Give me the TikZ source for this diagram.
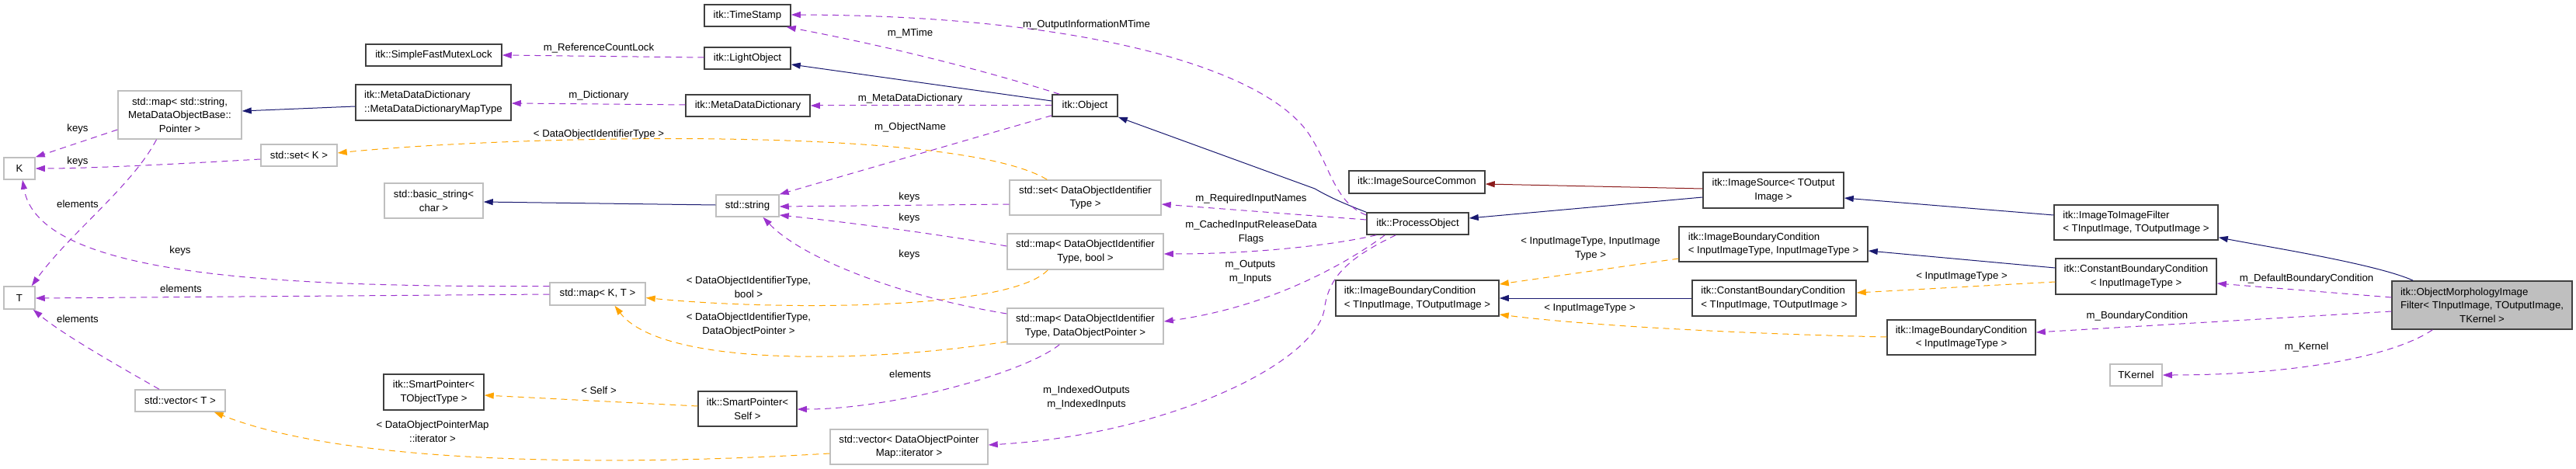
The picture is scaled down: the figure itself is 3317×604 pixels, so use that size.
\documentclass[tikz,border=0pt]{standalone}
\usepackage{fontspec}
\setmainfont{Liberation Sans}
\usepackage{xcolor}
\usetikzlibrary{arrows.meta, calc}
\definecolor{inhblue}{HTML}{191970}
\definecolor{usepurple}{HTML}{9A32CD}
\definecolor{tplorange}{HTML}{FFA500}
\definecolor{privred}{HTML}{8B1A1A}
\definecolor{boxline}{HTML}{404040}
\definecolor{extline}{HTML}{BFBFBF}
\newcommand{\dfont}{\fontsize{13.2}{17.7}\selectfont}
\newcommand{\midln}[1]{\hfill#1\hfill\null}
\tikzset{
    cls/.style={draw=boxline, line width=1.5pt, fill=white, inner sep=0pt, align=left, font=\dfont},
    ext/.style={cls, draw=extline, align=center},
    selfcls/.style={cls, fill=extline},
    sz/.style 2 args={minimum width=#1pt, minimum height=#2pt},
    lbl/.style={inner sep=0pt, align=center, font=\dfont},
    inh/.style={-{Triangle[length=12pt,width=8pt]}, line width=1pt, inhblue},
    priv/.style={inh, privred},
    uses/.style={-{Triangle[length=12pt,width=8pt]}, line width=1pt, usepurple, dash pattern=on 8pt off 6pt},
    tpl/.style={uses, tplorange}
}
\begin{document}
\begin{tikzpicture}[x=1pt, y=-1pt]
    \useasboundingbox (0,0) rectangle (3317,604);
    % classes
    \node[cls, sz={175}{28}] (mutex) at (558.5,71) {itk::SimpleFastMutexLock};
    \node[cls, sz={200}{46}] (dictmap) at (558,132) {itk::MetaDataDictionary\\\midln{::MetaDataDictionaryMapType}};
    \node[ext, sz={159}{62}] (strmap) at (231.5,148) {std::map< std::string,\\MetaDataObjectBase::\\Pointer >};
    \node[ext, sz={40}{28}] (K) at (25,217) {K};
    \node[ext, sz={98}{28}] (setK) at (385,200) {std::set< K >};
    \node[ext, sz={127}{45}] (bstring) at (558.5,258.5) {std::basic\_string<\\char >};
    \node[ext, sz={40}{29}] (T) at (25,383.5) {T};
    \node[ext, sz={116}{28}] (vecT) at (232,516) {std::vector< T >};
    \node[cls, sz={129}{46}] (spobj) at (558.5,505) {itk::SmartPointer<\\\midln{TObjectType >}};
    \node[cls, sz={111}{28}] (stamp) at (962.5,20) {itk::TimeStamp};
    \node[cls, sz={111}{28}] (light) at (962.5,75) {itk::LightObject};
    \node[cls, sz={160}{28}] (dict) at (963,136) {itk::MetaDataDictionary};
    \node[ext, sz={81}{28}] (string) at (962.5,265) {std::string};
    \node[ext, sz={123}{29}] (mapKT) at (769.5,378.5) {std::map< K, T >};
    \node[cls, sz={127}{45}] (spself) at (962.5,526.5) {itk::SmartPointer<\\\midln{Self >}};
    \node[ext, sz={203}{45}] (vecit) at (1170.5,575.5) {std::vector< DataObjectPointer\\Map::iterator >};
    \node[ext, sz={195}{45}] (setid) at (1397.5,254.5) {std::set< DataObjectIdentifier\\Type >};
    \node[ext, sz={201}{46}] (mapbool) at (1397.5,324) {std::map< DataObjectIdentifier\\Type, bool >};
    \node[ext, sz={201}{46}] (mapptr) at (1397.5,420) {std::map< DataObjectIdentifier\\Type, DataObjectPointer >};
    \node[cls, sz={84}{28}] (object) at (1397,136) {itk::Object};
    \node[cls, sz={175}{29}] (srccommon) at (1824.5,234.5) {itk::ImageSourceCommon};
    \node[cls, sz={131}{28}] (process) at (1825.5,288) {itk::ProcessObject};
    \node[cls, sz={210}{46}] (ibcio) at (1825,384) {itk::ImageBoundaryCondition\\\midln{< TInputImage, TOutputImage >}};
    \node[cls, sz={181}{46}] (source) at (2283.5,245) {itk::ImageSource< TOutput\\\midln{Image >}};
    \node[cls, sz={243}{45}] (ibcii) at (2283.5,314.5) {itk::ImageBoundaryCondition\\\midln{< InputImageType, InputImageType >}};
    \node[cls, sz={211}{46}] (cbcio) at (2284.5,384) {itk::ConstantBoundaryCondition\\\midln{< TInputImage, TOutputImage >}};
    \node[cls, sz={191}{45}] (ibci) at (2525.5,434.5) {itk::ImageBoundaryCondition\\\midln{< InputImageType >}};
    \node[cls, sz={211}{45}] (imgfilter) at (2750.5,286.5) {itk::ImageToImageFilter\\\midln{< TInputImage, TOutputImage >}};
    \node[cls, sz={207}{46}] (cbci) at (2750.5,356) {itk::ConstantBoundaryCondition\\\midln{< InputImageType >}};
    \node[selfcls, sz={232}{62}] (morph) at (3196,393) {itk::ObjectMorphologyImage\\Filter< TInputImage, TOutputImage,\\\midln{TKernel >}};
    \node[ext, sz={67}{28}] (kernel) at (2750.5,483) {TKernel};
    % inheritance
    \draw[inh] ($(dictmap.west)+(0,5)$) -- ($(strmap.east)+(0,-5)$);
    \draw[inh] ($(string.west)+(0,-1)$) -- ($(bstring.east)+(0,1.5)$);
    \draw[inh] ($(object.west)+(0,-6)$) -- ($(light.east)+(0,8)$);
    \draw[inh] (process.north west) .. controls (1730,262) and (1712,254) .. (1693,243) -- (object.south east);
    \draw[inh] ($(source.west)+(0,9)$) -- ($(process.east)+(0,-7)$);
    \draw[priv] ($(source.west)+(0,-2)$) -- ($(srccommon.east)+(0,2.5)$);
    \draw[inh] ($(imgfilter.west)+(0,-9.5)$) -- ($(source.east)+(0,10)$);
    \draw[inh] ($(morph.north west)+(28,0)$) .. controls (3060,340) and (2920,318) .. ($(imgfilter.south east)+(0,-4)$);
    \draw[inh] (cbcio.west) -- (ibcio.east);
    \draw[inh] ($(cbci.west)+(0,-11)$) -- ($(ibcii.east)+(0,8.5)$);
    % template instances
    \draw[tpl] ($(setid.north west)+(49,0)$) .. controls (1230,160) and (650,175) .. ($(setK.east)+(0,-3)$);
    \draw[tpl] ($(mapbool.south west)+(53,0)$) .. controls (1300,400) and (1000,400) .. ($(mapKT.east)+(0,5)$);
    \draw[tpl] ($(mapptr.west)+(0,20)$) .. controls (1100,470) and (850,470) .. ($(mapKT.south)+(22,0)$);
    \draw[tpl] ($(spself.west)+(0,-3.5)$) -- ($(spobj.east)+(0,4)$);
    \draw[tpl] ($(vecit.west)+(0,8.5)$) .. controls (800,600) and (450,600) .. ($(vecT.south east)+(-15,0)$);
    \draw[tpl] ($(ibcii.west)+(0,18.5)$) -- ($(ibcio.east)+(0,-18)$);
    \draw[tpl] ($(cbci.west)+(0,7)$) -- ($(cbcio.east)+(0,-7)$);
    \draw[tpl] ($(ibci.west)+(0,-0.5)$) .. controls (2250,430) and (2050,420) .. ($(ibcio.east)+(0,21)$);
    % members
    \draw[uses] ($(light.west)+(0,-1)$) -- (mutex.east);
    \draw[uses] ($(dict.west)+(0,-1)$) -- ($(dictmap.east)+(0,1)$);
    \draw[uses] (object.west) -- (dict.east);
    \draw[uses] ($(object.north west)+(10,0)$) .. controls (1250,85) and (1120,55) .. ($(stamp.south east)+(-6,0)$);
    \draw[uses] ($(process.west)+(0,-11)$) .. controls (1720,262) and (1712,215) .. (1690,180) .. controls (1640,90) and (1400,20) .. ($(stamp.east)+(0,-1)$);
    \draw[uses] ($(object.south west)+(0,-2)$) -- (string.north east);
    \draw[uses] ($(setid.west)+(0,8.5)$) -- ($(string.east)+(0,1)$);
    \draw[uses] ($(mapbool.west)+(0,-7)$) .. controls (1200,300) and (1080,285) .. ($(string.east)+(0,12)$);
    \draw[uses] ($(mapptr.west)+(0,-16)$) .. controls (1150,380) and (1030,330) .. ($(string.south)+(20,0)$);
    \draw[uses] ($(mapptr.south west)+(68,0)$) .. controls (1320,480) and (1150,527) .. ($(spself.east)+(0,0.5)$);
    \draw[uses] ($(process.west)+(0,-5)$) -- ($(setid.east)+(0,8.5)$);
    \draw[uses] ($(process.south west)+(13,0)$) .. controls (1720,315) and (1620,327) .. ($(mapbool.east)+(0,3)$);
    \draw[uses] ($(process.south west)+(24,0)$) .. controls (1740,335) and (1640,395) .. ($(mapptr.east)+(0,-6)$);
    \draw[uses] ($(process.south west)+(38,0)$) .. controls (1730,335) and (1710,360) .. (1705,400) .. controls (1690,470) and (1500,560) .. ($(vecit.east)+(0,-2.5)$);
    \draw[uses] ($(strmap.west)+(0,19)$) -- (K.north east);
    \draw[uses] ($(setK.west)+(0,5)$) .. controls (250,210) and (120,217) .. (K.east);
    \draw[uses] ($(mapKT.west)+(0,-10)$) .. controls (350,370) and (50,355) .. ($(K.south)+(4,0)$);
    \draw[uses] ($(mapKT.west)+(0,0.5)$) -- ($(T.east)+(0,0.5)$);
    \draw[uses] ($(strmap.south)+(-30,0)$) .. controls (170,240) and (90,300) .. ($(T.north east)+(-5,0)$);
    \draw[uses] ($(vecT.north)+(-27,0)$) .. controls (150,470) and (80,430) .. ($(T.south east)+(-3,0)$);
    \draw[uses] ($(morph.west)+(0,-10)$) -- ($(cbci.east)+(0,9)$);
    \draw[uses] ($(morph.west)+(0,8)$) -- ($(ibci.east)+(0,-6.5)$);
    \draw[uses] ($(morph.south west)+(53,0)$) .. controls (3080,460) and (2950,483) .. (kernel.east);
    % edge labels
    \node[lbl] (lrefcount) at (771,62) {m\_ReferenceCountLock};
    \node[lbl] (ldict) at (771,123) {m\_Dictionary};
    \node[lbl] (lsetid) at (771,173) {< DataObjectIdentifierType >};
    \node[lbl] (lmtime) at (1172,43) {m\_MTime};
    \node[lbl] (lmdd) at (1172,127) {m\_MetaDataDictionary};
    \node[lbl] (lname) at (1172,164) {m\_ObjectName};
    \node[lbl] (lkeysset) at (1171,254) {keys};
    \node[lbl] (lkeysbool) at (1171,281) {keys};
    \node[lbl] (lkeysptr) at (1171,328) {keys};
    \node[lbl] (lmapbool) at (964,370) {< DataObjectIdentifierType,\\bool >};
    \node[lbl] (lmapptr) at (964,418) {< DataObjectIdentifierType,\\DataObjectPointer >};
    \node[lbl] (lelemptr) at (1172,482) {elements};
    \node[lbl] (lself) at (771,503) {< Self >};
    \node[lbl] (lvecit) at (557,556) {< DataObjectPointerMap\\::iterator >};
    \node[lbl] (lkeysstr) at (100,166) {keys};
    \node[lbl] (lkeysK) at (100,208) {keys};
    \node[lbl] (lelemstr) at (100,263) {elements};
    \node[lbl] (lkeysKT) at (232,323) {keys};
    \node[lbl] (lelemKT) at (233,372) {elements};
    \node[lbl] (lelemvec) at (100,411) {elements};
    \node[lbl] (loutinfo) at (1399,32) {m\_OutputInformationMTime};
    \node[lbl] (lreq) at (1611,256) {m\_RequiredInputNames};
    \node[lbl] (lcached) at (1611,299) {m\_CachedInputReleaseData\\Flags};
    \node[lbl] (lio) at (1610,350) {m\_Outputs\\m\_Inputs};
    \node[lbl] (lindexed) at (1399,512) {m\_IndexedOutputs\\m\_IndexedInputs};
    \node[lbl] (libcii) at (2048,320) {< InputImageType, InputImage\\Type >};
    \node[lbl] (lcbci) at (2526,356) {< InputImageType >};
    \node[lbl] (libci) at (2047,397) {< InputImageType >};
    \node[lbl] (ldefault) at (2970,359) {m\_DefaultBoundaryCondition};
    \node[lbl] (lboundary) at (2752,407) {m\_BoundaryCondition};
    \node[lbl] (lkernel) at (2970,447) {m\_Kernel};
\end{tikzpicture}
\end{document}
